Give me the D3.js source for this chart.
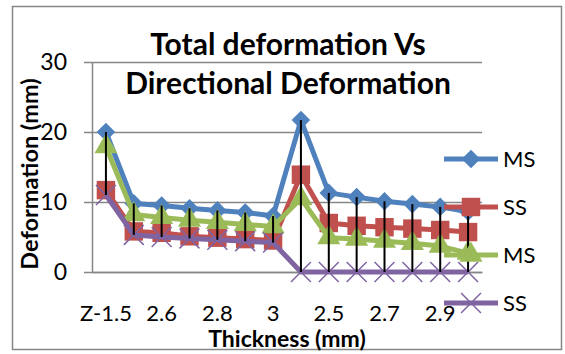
<!DOCTYPE html>
<html>
<head>
<meta charset="utf-8">
<script src="https://cdn.jsdelivr.net/npm/d3@7"></script>
<style>
  body { margin: 0; background: #fff; }
  svg { display: block; font-family: Lato, "Open Sans", sans-serif; }
</style>
</head>
<body>
<svg id="chart" width="565" height="354"></svg>
<script>
// data
const categories = ["Z-1.5", "2.5", "2.6", "2.7", "2.8", "2.9", "3", "1.5", "2.5", "2.6", "2.7", "2.8", "2.9", "3"];
const msTotal = [20.0, 9.8, 9.5, 9.1, 8.8, 8.5, 8.0, 21.7, 11.3, 10.7, 10.1, 9.7, 9.3, 8.6];
const ssTotal = [11.7, 5.8, 5.6, 5.1, 4.9, 4.7, 4.5, 13.9, 7.0, 6.6, 6.4, 6.2, 6.0, 5.7];
const msDir = [17.9, 8.2, 7.8, 7.4, 7.1, 6.8, 6.5, 10.5, 4.9, 4.7, 4.4, 4.1, 3.7, 2.7];
const ssDir = [11.0, 5.3, 5.0, 4.8, 4.6, 4.4, 4.2, 0, 0, 0, 0, 0, 0, 0];
const seriesNames = ["MS", "SS", "MS", "SS"];
const yTicks = [0, 10, 20, 30];

const colors = ["#4F81BD", "#C0504D", "#9BBB59", "#8064A2"];
const shapes = ["diamond", "square", "triangle", "cross"];
const series = [msTotal, ssTotal, msDir, ssDir].map((values, i) => ({
  name: seriesNames[i], values: values, color: colors[i], shape: shapes[i]
}));

const svg = d3.select("#chart");
const grey = "#868686";

// chart area border
svg.append("rect")
  .attr("x", 12.5).attr("y", 6.5)
  .attr("width", 549).attr("height", 343)
  .attr("fill", "#fff").attr("stroke", grey).attr("stroke-width", 1.5);

const x = d3.scaleBand().domain(d3.range(categories.length)).range([92, 482]);
const y = d3.scaleLinear().domain([0, 30]).range([272, 62]);
const cx = i => x(i) + x.bandwidth() / 2;

// gridlines + y axis
const yAxis = svg.append("g")
  .attr("transform", "translate(92,0)")
  .call(d3.axisLeft(y).tickValues(yTicks).tickSize(8).tickSizeOuter(0).tickPadding(17));
yAxis.select(".domain").attr("stroke", grey).attr("stroke-width", 1.5);
yAxis.selectAll(".tick line").attr("stroke", grey).attr("stroke-width", 1.5);
yAxis.selectAll(".tick text").attr("font-size", 23).attr("fill", "#000")
  .attr("font-family", "Lato, sans-serif").attr("dy", "0.34em");
yAxis.selectAll(".tick").append("line")
  .attr("x1", 0).attr("x2", 390)
  .attr("stroke", grey).attr("stroke-width", 1.5);

// x axis
const xAxis = svg.append("g")
  .attr("transform", "translate(0,272)")
  .call(d3.axisBottom(x).tickSize(0).tickPadding(49)
    .tickFormat(i => i % 2 === 0 ? categories[i] : ""));
xAxis.select(".domain").attr("stroke", grey).attr("stroke-width", 1.5);
xAxis.selectAll(".tick text").attr("font-size", 22).attr("fill", "#000")
  .attr("font-family", "Lato, sans-serif").attr("dy", "0");

const symbolFor = {
  diamond: d3.symbol().type(d3.symbolDiamond2).size(220),
  square: d3.symbol().type(d3.symbolSquare).size(340),
  triangle: d3.symbol().type(d3.symbolTriangle).size(230),
  cross: d3.symbol().type(d3.symbolX).size(260)
};

function drawMarker(g, s, px, py) {
  const p = g.append("path")
    .attr("d", symbolFor[s.shape]())
    .attr("transform", "translate(" + px + "," + py + ")");
  if (s.shape === "cross") {
    p.attr("fill", "none").attr("stroke", s.color).attr("stroke-width", 1.5);
  } else {
    p.attr("fill", s.color).attr("stroke", "none");
  }
}

const line = d3.line().x((d, i) => cx(i)).y(d => y(d));

series.forEach(s => {
  const g = svg.append("g");
  g.append("path")
    .datum(s.values)
    .attr("d", line)
    .attr("fill", "none")
    .attr("stroke", s.color)
    .attr("stroke-width", 5)
    .attr("stroke-linejoin", "round");
  s.values.forEach((v, i) => drawMarker(g, s, cx(i), y(v)));
});

// high-low lines
svg.append("g").selectAll("line")
  .data(categories.map((c, i) => series.map(s => s.values[i])))
  .join("line")
  .attr("x1", (d, i) => cx(i)).attr("x2", (d, i) => cx(i))
  .attr("y1", d => y(d3.max(d))).attr("y2", d => y(d3.min(d)))
  .attr("stroke", "#000").attr("stroke-width", 2);

// legend
const legend = svg.append("g");
series.forEach((s, i) => {
  const ly = 159 + i * 48;
  legend.append("line")
    .attr("x1", 444).attr("x2", 498).attr("y1", ly).attr("y2", ly)
    .attr("stroke", s.color).attr("stroke-width", 5);
  drawMarker(legend, s, 471, ly);
  legend.append("text")
    .attr("x", 503).attr("y", ly).attr("dy", "0.36em")
    .attr("font-size", 22).attr("fill", "#000")
    .text(s.name);
});

// titles
const title = svg.append("text")
  .attr("text-anchor", "middle").attr("font-weight", "bold")
  .attr("font-size", 30).attr("fill", "#000");
title.append("tspan").attr("x", 288).attr("y", 55).text("Total deformation Vs");
title.append("tspan").attr("x", 288).attr("y", 94).text("Directional Deformation");

svg.append("text")
  .attr("x", 287).attr("y", 347)
  .attr("text-anchor", "middle").attr("font-weight", "bold")
  .attr("font-size", 23).attr("fill", "#000")
  .text("Thickness (mm)");

svg.append("text")
  .attr("transform", "translate(38,174) rotate(-90)")
  .attr("text-anchor", "middle").attr("font-weight", "bold")
  .attr("font-size", 23.5).attr("fill", "#000")
  .text("Deformation (mm)");
</script>
</body>
</html>
